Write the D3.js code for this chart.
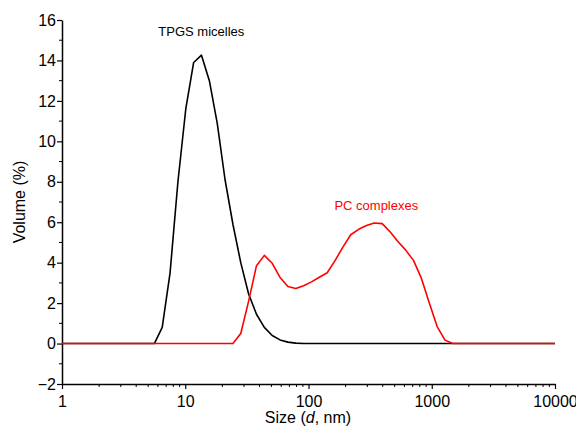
<!DOCTYPE html>
<html><head><meta charset="utf-8">
<script src="https://cdn.jsdelivr.net/npm/d3@7"></script>
<style>body{margin:0;background:#fff;} svg{display:block;font-family:"Liberation Sans",Arial,sans-serif;}</style>
</head><body>
<svg id="c" width="576" height="428"></svg>
<script>
// Data
const tpgsSize = [1, 5.615, 6.503, 7.531, 8.721, 10.1, 11.7, 13.54, 15.69, 18.17, 21.04, 24.36, 28.21, 32.67, 37.84, 43.82, 50.75, 58.77, 68.06, 78.82, 91.28, 105.7, 10000];
const tpgsVol  = [0, 0, 0.8, 3.5, 8.0, 11.6, 13.9, 14.26, 13.0, 10.9, 8.1, 5.9, 4.0, 2.45, 1.45, 0.8, 0.4, 0.18, 0.07, 0.02, 0.005, 0, 0];
const pcSize = [1, 24.36, 28.21, 32.67, 37.84, 43.82, 50.75, 58.77, 68.06, 78.82, 91.28, 105.7, 122.4, 141.8, 164.2, 190.1, 220.2, 255.0, 295.3, 342.0, 396.1, 458.7, 531.2, 615.1, 712.4, 825.0, 955.4, 1106, 1281, 1484, 10000];
const pcVol  = [0, 0, 0.5, 2.1, 3.85, 4.36, 3.97, 3.27, 2.82, 2.72, 2.86, 3.05, 3.28, 3.5, 4.1, 4.77, 5.38, 5.65, 5.84, 5.96, 5.93, 5.53, 5.05, 4.62, 4.1, 3.22, 2.0, 0.84, 0.17, 0, 0];
const xTicks = [1, 10, 100, 1000, 10000];
const yTicks = [-2, 0, 2, 4, 6, 8, 10, 12, 14, 16];
const labels = [{text: "TPGS micelles", x: 13.5, y: 15.2, color: "#000"}, {text: "PC complexes", x: 355, y: 6.6, color: "#ff0000"}];

const svg = d3.select("#c");
const x = d3.scaleLog().domain([1, 10000]).range([62, 555]);
const y = d3.scaleLinear().domain([-2, 16]).range([384, 20]);

// minor ticks
const xMinor = [];
for (let d = 1; d < 10000; d *= 10) for (let k = 2; k <= 9; k++) xMinor.push(d * k);
const yMinor = d3.range(-1, 16, 2);

const ax = svg.append("g");
ax.append("g").selectAll("line").data(xMinor).join("line")
  .attr("x1", d => x(d)).attr("x2", d => x(d)).attr("y1", 384).attr("y2", 387)
  .attr("stroke", "#000").attr("stroke-width", 1);
ax.append("g").selectAll("line").data(yMinor).join("line")
  .attr("x1", 62).attr("x2", 59).attr("y1", d => y(d)).attr("y2", d => y(d))
  .attr("stroke", "#000").attr("stroke-width", 1);

const xAxis = d3.axisBottom(x).tickValues(xTicks).tickFormat(d3.format("d")).tickSize(5).tickSizeOuter(0);
const gx = svg.append("g").attr("transform", "translate(0,384)").call(xAxis);
gx.select(".domain").attr("stroke-width", 1.5);
gx.selectAll(".tick line").attr("stroke-width", 1.2);
gx.selectAll("text").attr("font-size", 16).attr("font-family", "Liberation Sans, Arial, sans-serif").attr("dy", "0.95em").attr("fill", "#000");

const yAxis = d3.axisLeft(y).tickValues(yTicks).tickSize(5).tickSizeOuter(0);
const gy = svg.append("g").attr("transform", "translate(62,0)").call(yAxis);
gy.select(".domain").attr("stroke-width", 1.5);
gy.selectAll(".tick line").attr("stroke-width", 1.2);
gy.selectAll("text").attr("font-size", 16).attr("font-family", "Liberation Sans, Arial, sans-serif").attr("x", -6).attr("fill", "#000");

const line = d3.line().x(d => x(d[0])).y(d => y(d[1]));
svg.append("path").datum(d3.zip(tpgsSize, tpgsVol)).attr("d", line)
  .attr("fill", "none").attr("stroke", "#000").attr("stroke-width", 1.6).attr("stroke-linejoin", "round");
svg.append("path").datum(d3.zip(pcSize, pcVol)).attr("d", line)
  .attr("fill", "none").attr("stroke", "#ff0000").attr("stroke-width", 1.6).attr("stroke-linejoin", "round");

svg.selectAll(".lbl").data(labels).join("text").attr("class", "lbl")
  .attr("x", d => x(d.x)).attr("y", d => y(d.y)).attr("text-anchor", "middle")
  .attr("font-size", 13).attr("fill", d => d.color).text(d => d.text);

// axis titles
const xt = svg.append("text").attr("x", 308).attr("y", 423).attr("text-anchor", "middle").attr("font-size", 16);
xt.append("tspan").text("Size (");
xt.append("tspan").attr("font-style", "italic").text("d");
xt.append("tspan").text(", nm)");
svg.append("text").attr("transform", "translate(25,202) rotate(-90)").attr("text-anchor", "middle")
  .attr("font-size", 16).text("Volume (%)");
</script>
</body></html>
